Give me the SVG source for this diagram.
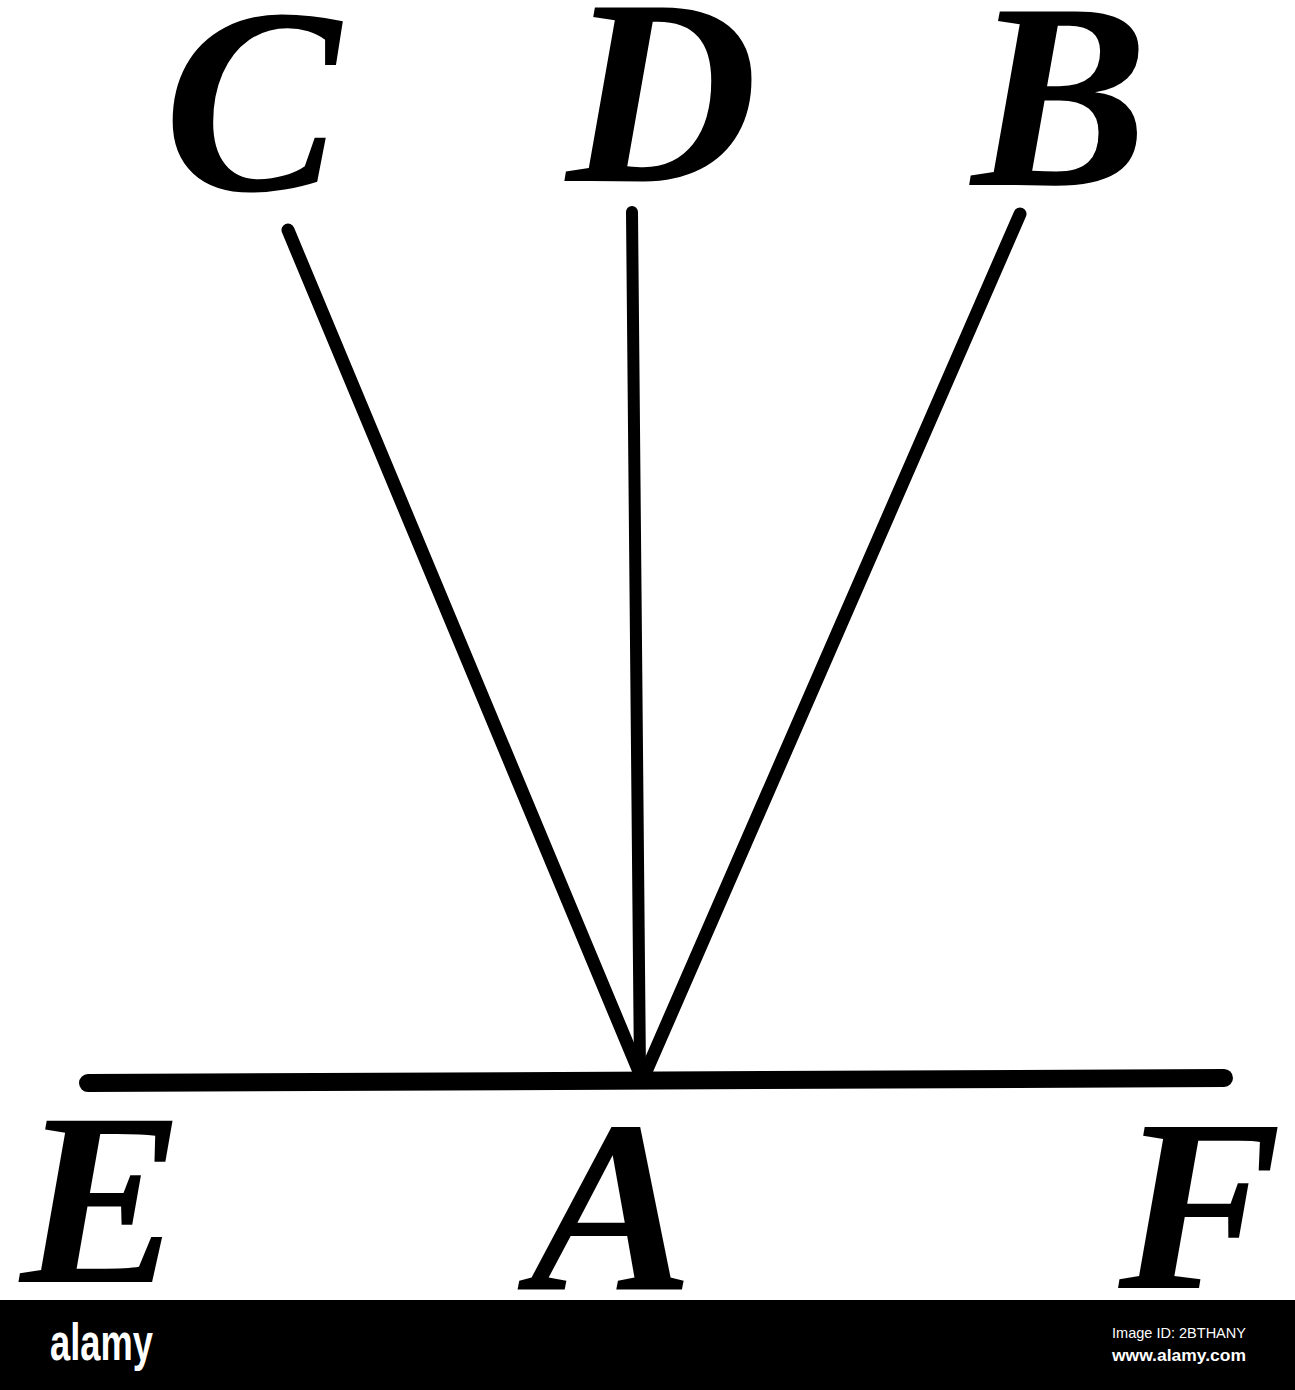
<svg xmlns="http://www.w3.org/2000/svg" width="1295" height="1390" viewBox="0 0 1295 1390">
<style>
.lbl{font-family:"Liberation Serif","DejaVu Serif",serif;font-weight:bold;font-style:italic;font-size:265px;fill:#000;text-anchor:middle}
.lo{font-size:245px}
.ln{stroke:#000;stroke-linecap:round;fill:none}
.wm{font-family:"Liberation Sans","DejaVu Sans",sans-serif;fill:#fff}
</style>
<rect width="1295" height="1390" fill="#fff"/>
<g id="connectors">
<line class="ln" x1="288" y1="230" x2="640" y2="1074" stroke-width="13"/>
<line class="ln" x1="632" y1="212" x2="640" y2="1074" stroke-width="12"/>
<line class="ln" x1="1020" y1="214" x2="645" y2="1074" stroke-width="13"/>
<line class="ln" x1="88" y1="1083" x2="1224" y2="1078" stroke-width="18"/>
</g>
<g id="C"><text class="lbl" x="252" y="190">C</text></g>
<g id="D"><text class="lbl" x="662" y="181">D</text></g>
<g id="B"><text class="lbl" x="1060" y="185">B</text></g>
<g id="E"><text class="lbl lo" x="102" y="1282">E</text></g>
<g id="A"><text class="lbl lo" x="612" y="1290">A</text></g>
<g id="F"><text class="lbl lo" x="1200" y="1288">F</text></g>
<g id="watermark">
<rect x="0" y="1300" width="1295" height="90" fill="#000"/>
<text class="wm" x="50" y="1360" font-size="52" font-weight="bold" textLength="103" lengthAdjust="spacingAndGlyphs">alamy</text>
<text class="wm" x="1112" y="1338" font-size="15" textLength="134" lengthAdjust="spacingAndGlyphs">Image ID: 2BTHANY</text>
<text class="wm" x="1112" y="1361" font-size="16" font-weight="bold" textLength="134" lengthAdjust="spacingAndGlyphs">www.alamy.com</text>
</g>
</svg>
